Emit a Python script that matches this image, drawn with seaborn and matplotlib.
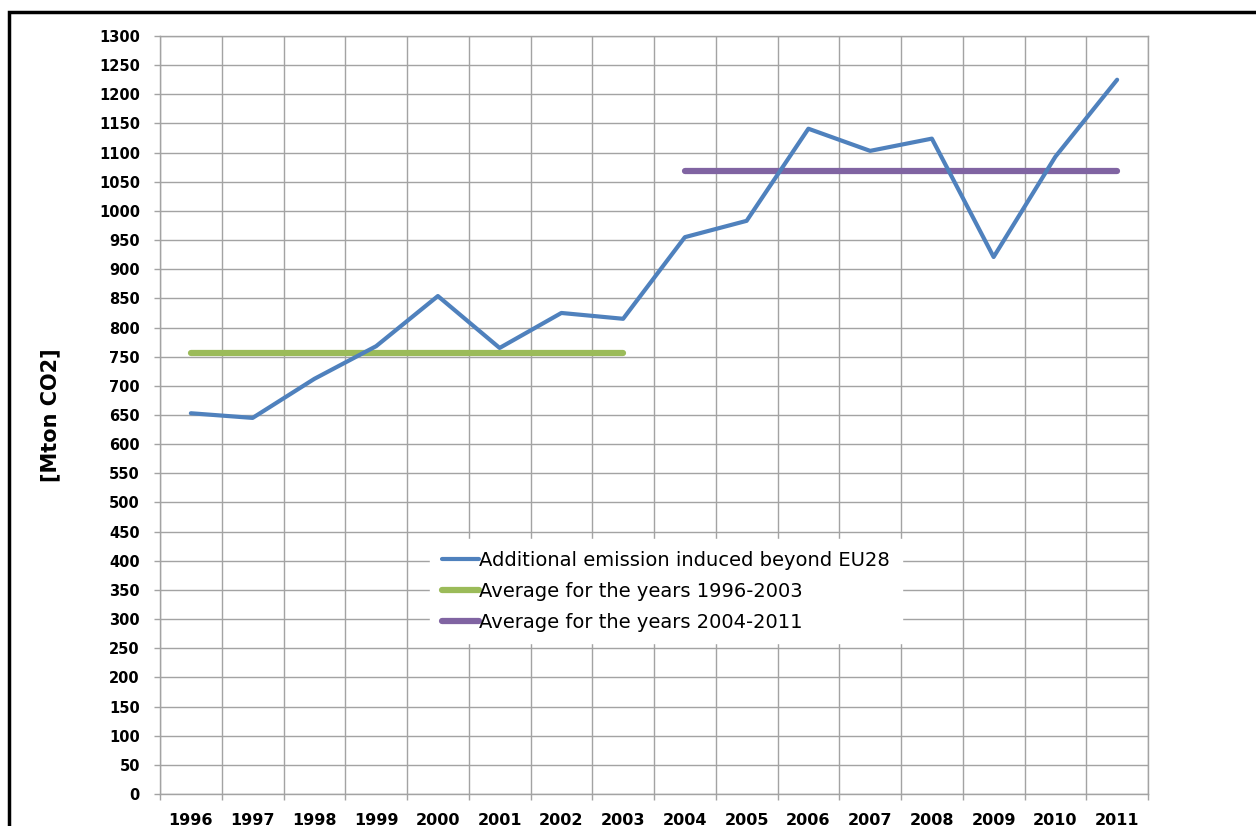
import numpy as np
import pandas as pd
import matplotlib
matplotlib.use("Agg")
import matplotlib.pyplot as plt
from matplotlib.patches import Rectangle
import seaborn as sns

# Data
years = [1996, 1997, 1998, 1999, 2000, 2001, 2002, 2003,
         2004, 2005, 2006, 2007, 2008, 2009, 2010, 2011]
emission = [653, 645, 712, 768, 854, 765, 825, 815,
            955, 983, 1141, 1103, 1124, 921, 1093, 1225]
early_years = [1996, 2003]
early_avg = [756, 756]
late_years = [2004, 2011]
late_avg = [1068, 1068]

label_main = 'Additional emission induced beyond EU28'
label_early = 'Average for the years 1996-2003'
label_late = 'Average for the years 2004-2011'

sns.set_theme(style="white")
plt.rcParams['font.family'] = ['DejaVu Sans']

fig = plt.figure(figsize=(12.56, 8.26), dpi=100)
ax = fig.add_axes([160 / 1256, 1 - 794 / 826, (1148 - 160) / 1256, (794 - 36) / 826])

# outer chart frame (cropped on the right and bottom)
fig.patches.append(Rectangle((9 / 1256, -0.1), 1.2, 1.1 - 12 / 826,
                             transform=fig.transFigure, fill=False,
                             lw=2.5, edgecolor='black', zorder=0))

df_main = pd.DataFrame({'year': years, 'value': emission})
df_early = pd.DataFrame({'year': early_years, 'value': early_avg})
df_late = pd.DataFrame({'year': late_years, 'value': late_avg})

sns.lineplot(data=df_main, x='year', y='value', ax=ax, color='#4F81BD',
             lw=3.0, label=label_main, solid_capstyle='round',
             solid_joinstyle='round', zorder=4)
sns.lineplot(data=df_early, x='year', y='value', ax=ax, color='#9BBB59',
             lw=4.5, label=label_early, solid_capstyle='round', zorder=3)
sns.lineplot(data=df_late, x='year', y='value', ax=ax, color='#8064A2',
             lw=4.5, label=label_late, solid_capstyle='round', zorder=3)

grid_col = '#a3a3a3'
ax.set_xlim(years[0] - 0.5, years[-1] + 0.5)
ax.set_ylim(0, 1300)
ax.set_yticks(np.arange(0, 1301, 50))
ax.set_xticks(np.arange(years[0] - 0.5, years[-1] + 1, 1.0))
ax.set_xticklabels([])
ax.set_xticks(years, minor=True)
ax.set_xticklabels([str(y) for y in years], minor=True)
ax.grid(True, which='major', color=grid_col, lw=1.0)
ax.set_axisbelow(True)
for s in ax.spines.values():
    s.set_color(grid_col)
    s.set_linewidth(1.0)
ax.tick_params(axis='both', which='major', direction='out', length=4.5,
               color=grid_col, width=1.0, left=True, bottom=True)
ax.tick_params(axis='y', labelsize=10.5, pad=10, labelcolor='black')
ax.tick_params(axis='x', which='minor', length=0, labelsize=11.5, pad=14,
               labelcolor='black')
for t in ax.get_yticklabels() + ax.get_xticklabels(minor=True):
    t.set_fontweight('bold')

ax.set_xlabel('')
ax.set_ylabel('[Mton CO2]', fontsize=15, fontweight='bold', labelpad=28,
              color='black')

leg = ax.legend(loc='upper left', bbox_to_anchor=((426 - 160) / 988, (794 - 535) / 758),
                frameon=True, fontsize=14, handlelength=1.95, handletextpad=0.0,
                labelspacing=0.62, borderpad=0.3)
leg.get_frame().set_facecolor('white')
leg.get_frame().set_edgecolor('white')
leg.get_frame().set_alpha(1.0)
leg.get_frame().set_boxstyle('square', pad=0.3)
for t in leg.get_texts():
    t.set_color('black')

fig.savefig('out.png', dpi=100)
